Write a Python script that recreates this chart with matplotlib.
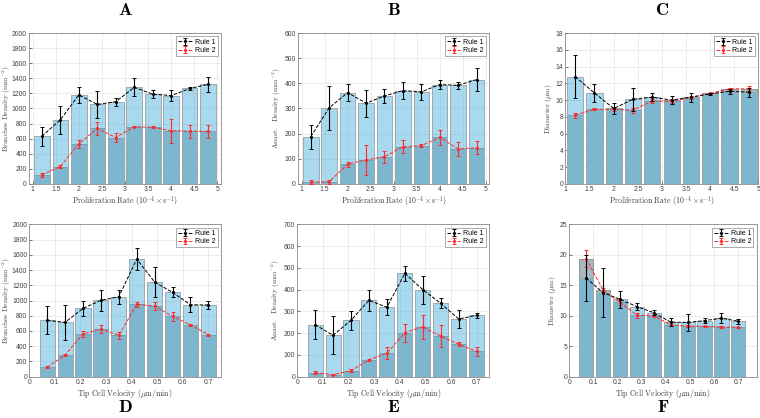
import numpy as np
import matplotlib
matplotlib.use('Agg')
import matplotlib.pyplot as plt

plt.rcParams['mathtext.fontset'] = 'cm'
plt.rcParams['font.family'] = ['Liberation Sans', 'DejaVu Sans']

# x positions
prolif = [1.2, 1.6, 2.0, 2.4, 2.8, 3.2, 3.6, 4.0, 4.4, 4.8]
velocity = [0.07, 0.14, 0.21, 0.28, 0.35, 0.42, 0.49, 0.56, 0.63, 0.70]

# A: branches density vs proliferation
a_r1 = [630, 850, 1180, 1053, 1090, 1280, 1190, 1170, 1265, 1320]
a_r1_err = [130, 185, 110, 175, 55, 120, 55, 75, 15, 100]
a_r2 = [120, 230, 530, 735, 615, 760, 750, 705, 700, 695]
a_r2_err = [25, 20, 55, 80, 60, 10, 15, 160, 85, 90]

# B: anastomosis density vs proliferation
b_r1 = [188, 303, 363, 321, 350, 371, 366, 395, 392, 415]
b_r1_err = [48, 88, 35, 53, 27, 35, 33, 17, 15, 45]
b_r2 = [7, 9, 79, 95, 108, 148, 152, 185, 139, 144]
b_r2_err = [8, 8, 10, 58, 24, 25, 7, 30, 26, 27]

# C: diameter vs proliferation
c_r1 = [12.8, 10.85, 9.0, 10.1, 10.35, 10.0, 10.35, 10.75, 11.05, 10.95]
c_r1_err = [2.6, 1.05, 0.6, 1.4, 0.45, 0.5, 0.55, 0.15, 0.3, 0.55]
c_r2 = [8.2, 8.9, 8.9, 8.8, 9.9, 9.85, 10.3, 10.8, 11.35, 11.35]
c_r2_err = [0.3, 0.1, 0.15, 0.3, 0.2, 0.2, 0.15, 0.1, 0.1, 0.35]

# D: branches density vs tip cell velocity
d_r1 = [739, 713, 897, 1002, 1050, 1545, 1243, 1107, 945, 941]
d_r1_err = [185, 230, 96, 136, 92, 149, 200, 66, 98, 57]
d_r2 = [123, 284, 560, 625, 543, 950, 928, 792, 683, 551]
d_r2_err = [10, 12, 41, 55, 50, 37, 56, 57, 15, 12]

# E: anastomosis density vs tip cell velocity
e_r1 = [239, 190, 259, 351, 319, 475, 400, 337, 265, 282]
e_r1_err = [68, 87, 45, 48, 37, 34, 65, 23, 43, 12]
e_r2 = [18, 9, 27, 78, 107, 202, 229, 186, 149, 116]
e_r2_err = [7, 3, 8, 5, 27, 42, 55, 50, 10, 20]

# F: diameter vs tip cell velocity
f_r1 = [16.2, 13.8, 12.7, 11.5, 10.5, 8.95, 8.9, 9.2, 9.6, 9.1]
f_r1_err = [3.8, 4.0, 1.4, 0.55, 0.4, 0.7, 1.4, 0.35, 0.85, 0.4]
f_r2 = [19.4, 14.2, 12.2, 10.1, 10.0, 8.5, 8.3, 8.25, 8.15, 8.1]
f_r2_err = [1.4, 0.3, 0.4, 0.4, 0.2, 0.15, 0.2, 0.1, 0.1, 0.1]

prolif_label = r'$\mathrm{Proliferation\ Rate\ }(10^{-4}\times\mathrm{s}^{-1})$'
vel_label = r'$\mathrm{Tip\ Cell\ Velocity\ }(\mu\mathrm{m/min})$'
bd_label = r'$\mathrm{Branches\ Density\ }(\mathrm{mm}^{-2})$'
ad_label = r'$\mathrm{Anast.\ \ Density\ }(\mathrm{mm}^{-2})$'
dia_label = r'$\mathrm{Diameter\ }(\mu\mathrm{m})$'

panels = [
    ('A', [0.038, 0.560, 0.253, 0.361], prolif, a_r1, a_r1_err, a_r2, a_r2_err,
     (0.92, 5.08), np.arange(1, 5.01, 0.5), (0, 2000), np.arange(0, 2001, 200), prolif_label, bd_label, 'top'),
    ('B', [0.392, 0.560, 0.252, 0.361], prolif, b_r1, b_r1_err, b_r2, b_r2_err,
     (0.92, 5.08), np.arange(1, 5.01, 0.5), (0, 600), np.arange(0, 601, 100), prolif_label, ad_label, 'top'),
    ('C', [0.744, 0.560, 0.254, 0.361], prolif, c_r1, c_r1_err, c_r2, c_r2_err,
     (1, 5), np.arange(1, 5.01, 0.5), (0, 18), np.arange(0, 18.1, 2), prolif_label, dia_label, 'top'),
    ('D', [0.0385, 0.099, 0.2525, 0.364], velocity, d_r1, d_r1_err, d_r2, d_r2_err,
     (0, 0.75), np.arange(0, 0.71, 0.1), (0, 2000), np.arange(0, 2001, 200), vel_label, bd_label, 'bottom'),
    ('E', [0.391, 0.099, 0.253, 0.364], velocity, e_r1, e_r1_err, e_r2, e_r2_err,
     (0, 0.75), np.arange(0, 0.71, 0.1), (0, 700), np.arange(0, 701, 100), vel_label, ad_label, 'bottom'),
    ('F', [0.749, 0.099, 0.247, 0.364], velocity, f_r1, f_r1_err, f_r2, f_r2_err,
     (0, 0.777), np.arange(0, 0.71, 0.1), (0, 25), np.arange(0, 25.1, 5), vel_label, dia_label, 'bottom'),
]

fig = plt.figure(figsize=(7.6, 4.18), dpi=100)

for (letter, pos, x, r1, r1e, r2, r2e, xlim, xticks, ylim, yticks,
     xlab, ylab, where) in panels:
    ax = fig.add_axes(pos)
    x = np.array(x)
    w = 0.84 * (x[1] - x[0])
    ax.set_axisbelow(True)
    ax.grid(True, color='#e4e4e4', lw=0.5)
    # rule 2 bars first, rule 1 translucent over them
    ax.bar(x, r2, width=w, color='#a9b8bf', edgecolor='#8e9699', linewidth=0.7, zorder=2)
    ax.bar(x, r1, width=w, color=(0.32, 0.71, 0.88, 0.5), edgecolor='#a0a8ac', linewidth=0.7, zorder=3)
    h1 = ax.errorbar(x, r1, yerr=r1e, color='black', ls='--', lw=0.7, elinewidth=0.8,
                     capsize=1.5, capthick=0.7, marker='.', ms=2.5, zorder=5, label='Rule 1')
    h2 = ax.errorbar(x, r2, yerr=r2e, color='#ff2a2a', ls='--', lw=0.7, elinewidth=0.8,
                     capsize=1.5, capthick=0.7, marker='.', ms=2.5, zorder=4, label='Rule 2')
    ax.set_xlim(xlim)
    ax.set_ylim(ylim)
    ax.set_xticks(xticks)
    ax.set_xticklabels(['%g' % t for t in xticks])
    ax.set_yticks(yticks)
    ax.tick_params(labelsize=4.9, colors='#404040', direction='in', length=2, width=0.5, pad=1.5)
    for s in ax.spines.values():
        s.set_color('#8a8a8a')
        s.set_linewidth(0.6)
    ax.set_xlabel(xlab, fontsize=5.6, color='#404040', labelpad=1)
    ax.set_ylabel(ylab, fontsize=5.4, color='#404040', labelpad=1)
    if letter in ('A', 'D'):
        ax.yaxis.set_label_coords(-0.083, 0.5)
    leg = ax.legend(handles=[h1, h2], loc='upper right', fontsize=5, frameon=True,
                    fancybox=False, edgecolor='#8a8a8a', framealpha=1,
                    handlelength=2.0, borderpad=0.3, labelspacing=0.2, handletextpad=0.4)
    leg.get_frame().set_linewidth(0.5)
    cx = pos[0] + pos[2] / 2
    ty = 0.975 if where == 'top' else 0.025
    fig.text(cx, ty, r'$\mathbf{%s}$' % letter, ha='center', va='center', fontsize=13)

fig.savefig('out.png', dpi=100)
